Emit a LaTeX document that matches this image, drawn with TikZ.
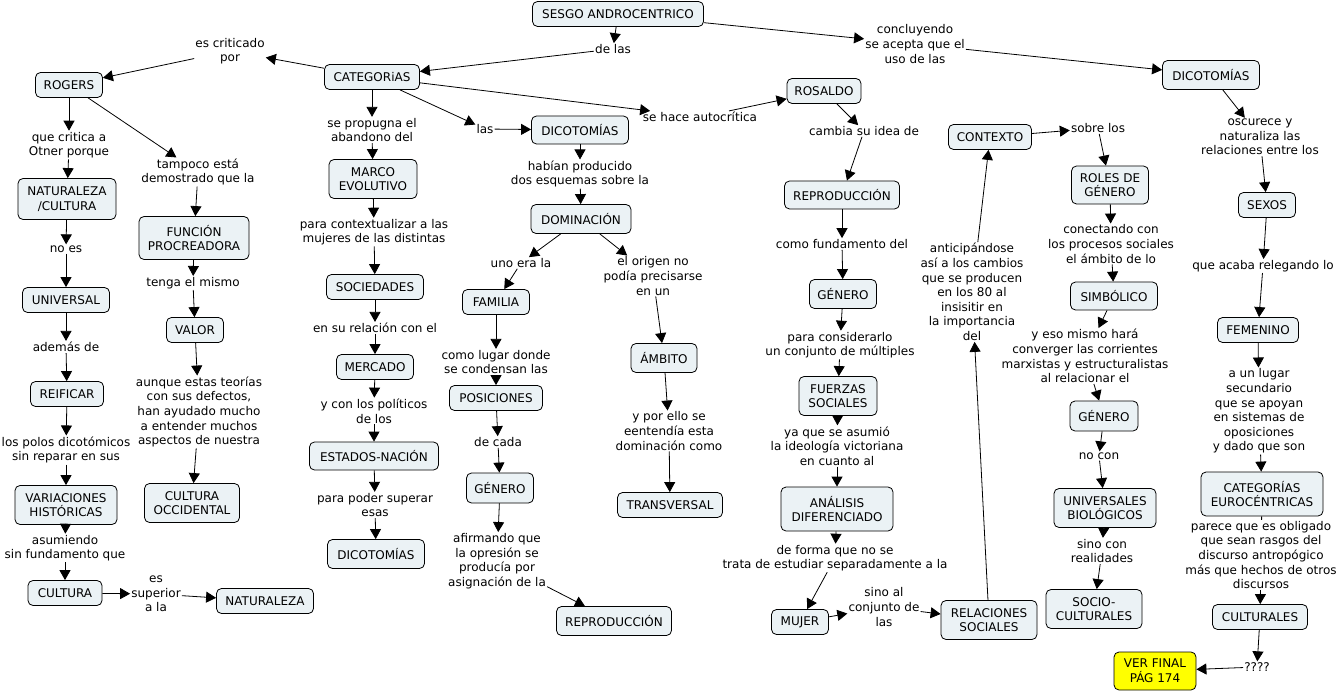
\documentclass[tikz,border=0pt]{standalone}
\usepackage{fontspec}
\setmainfont{DejaVu Sans}
\usetikzlibrary{arrows.meta}
\definecolor{boxfill}{RGB}{235,242,245}
\definecolor{yel}{RGB}{255,255,0}
\tikzset{
  cbox/.style={draw, rounded corners=5pt, fill=boxfill, align=center, inner xsep=6pt, inner ysep=2pt,
    minimum height=25pt, line width=0.8pt, font=\fontsize{12}{14.6}\selectfont},
  lab/.style={align=center, inner sep=1pt, font=\fontsize{12}{14.6}\selectfont},
  ar/.style={-{Triangle[length=10pt,width=11pt]}, line width=0.8pt},
  plainline/.style={line width=0.8pt},
}
\begin{document}
\begin{tikzpicture}[x=1pt,y=-1pt]
\fill[white] (0,0) rectangle (1340,692);
\useasboundingbox (0,0) rectangle (1340,692);
% concepts
\node[cbox, minimum width=171] (sesgo) at (618,14) {SESGO ANDROCENTRICO};
\node[cbox, minimum width=95] (cat) at (372,77) {CATEGORiAS};
\node[cbox, minimum width=67] (rogers) at (69,85) {ROGERS};
\node[cbox, minimum width=98, minimum height=41] (natcul) at (67,199) {NATURALEZA\\/CULTURA};
\node[cbox, minimum width=110, minimum height=43] (funcion) at (194,238) {FUNCIÓN\\PROCREADORA};
\node[cbox, minimum width=87] (universal) at (66,300) {UNIVERSAL};
\node[cbox, minimum width=57] (valor) at (195,330) {VALOR};
\node[cbox, minimum width=88, minimum height=39] (marco) at (373,179) {MARCO\\EVOLUTIVO};
\node[cbox, minimum width=97] (sociedades) at (375,287) {SOCIEDADES};
\node[cbox, minimum width=73] (reificar) at (67,394) {REIFICAR};
\node[cbox, minimum width=102, minimum height=39] (variaciones) at (66,505) {VARIACIONES\\HISTÓRICAS};
\node[cbox, minimum width=95, minimum height=39] (cultocc) at (192,503) {CULTURA\\OCCIDENTAL};
\node[cbox, minimum width=74] (cultura) at (65,593) {CULTURA};
\node[cbox, minimum width=97] (naturaleza) at (265,601) {NATURALEZA};
\node[cbox, minimum width=77] (mercado) at (375,367) {MERCADO};
\node[cbox, minimum width=129, minimum height=28] (estados) at (374,456) {ESTADOS-NACIÓN};
\node[cbox, minimum width=97, minimum height=29] (dicoL) at (376,554) {DICOTOMÍAS};
\node[cbox, minimum width=97, minimum height=28] (dicoM) at (580,130) {DICOTOMÍAS};
\node[cbox, minimum width=100, minimum height=29] (dominacion) at (581,219) {DOMINACIÓN};
\node[cbox, minimum width=67] (familia) at (496,302) {FAMILIA};
\node[cbox, minimum width=66, minimum height=29] (ambito) at (664,358) {ÁMBITO};
\node[cbox, minimum width=93] (posiciones) at (496,398) {POSICIONES};
\node[cbox, minimum width=67, minimum height=30] (generoM) at (500,488) {GÉNERO};
\node[cbox, minimum width=105] (transversal) at (670,505) {TRANSVERSAL};
\node[cbox, minimum width=115, minimum height=29] (reproB) at (614,621) {REPRODUCCIÓN};
\node[cbox, minimum width=74] (rosaldo) at (824,91) {ROSALDO};
\node[cbox, minimum width=115, minimum height=28] (reproR) at (842,195) {REPRODUCCIÓN};
\node[cbox, minimum width=67, minimum height=29] (generoR) at (843,294) {GÉNERO};
\node[cbox, minimum width=78, minimum height=39] (fuerzas) at (838,396) {FUERZAS\\SOCIALES};
\node[cbox, minimum width=112, minimum height=44] (analisis) at (837,509) {ANÁLISIS\\DIFERENCIADO};
\node[cbox, minimum width=57] (mujer) at (800,622) {MUJER};
\node[cbox, minimum width=96, minimum height=39] (relaciones) at (989,620) {RELACIONES\\SOCIALES};
\node[cbox, minimum width=83] (contexto) at (990,137) {CONTEXTO};
\node[cbox, minimum width=77, minimum height=38] (roles) at (1110,185) {ROLES DE\\GÉNERO};
\node[cbox, minimum width=87, minimum height=28] (simbolico) at (1114,296) {SIMBÓLICO};
\node[cbox, minimum width=97, minimum height=29] (dicoR) at (1211,75) {DICOTOMÍAS};
\node[cbox, minimum width=57] (sexos) at (1267,205) {SEXOS};
\node[cbox, minimum width=81] (femenino) at (1258,330) {FEMENINO};
\node[cbox, minimum width=68, minimum height=30] (generoR2) at (1104,416) {GÉNERO};
\node[cbox, minimum width=102, minimum height=39] (universales) at (1105,508) {UNIVERSALES\\BIOLÓGICOS};
\node[cbox, minimum width=96, minimum height=39] (socio) at (1094,609) {SOCIO-\\CULTURALES};
\node[cbox, minimum width=122, minimum height=44] (cateur) at (1262,494) {CATEGORÍAS\\EUROCÉNTRICAS};
\node[cbox, minimum width=95] (culturales) at (1260,617) {CULTURALES};
\node[cbox, fill=yel, minimum width=82, minimum height=38] (verfinal) at (1155,671) {VER FINAL\\PÁG 174};
% linking phrases
\node[lab] (l1) at (613,49) {de las};
\node[lab] (l2) at (915,44) {concluyendo\\se acepta que el\\uso de las};
\node[lab] (l3) at (230,51) {es criticado\\por};
\node[lab] (l4) at (69,145) {que critica a\\Otner porque};
\node[lab] (l5) at (198,172) {tampoco está\\demostrado que la};
\node[lab] (l6) at (372,130) {se propugna el\\abandono del};
\node[lab] (l7) at (66,249) {no es};
\node[lab] (l8) at (193,283) {tenga el mismo};
\node[lab] (l9) at (374,232) {para contextualizar a las\\mujeres de las distintas};
\node[lab] (l10) at (375,328) {en su relación con el};
\node[lab] (l11) at (66,347) {además de};
\node[lab] (l12) at (199,412) {aunque estas teorías\\con sus defectos,\\han ayudado mucho\\a entender muchos\\aspectos de nuestra};
\node[lab] (l13) at (66,450) {los polos dicotómicos\\sin reparar en sus};
\node[lab] (l14) at (65,548) {asumiendo\\sin fundamento que};
\node[lab] (l15) at (156,594) {es\\superior\\a la};
\node[lab] (l16) at (374,411) {y con los políticos\\de los};
\node[lab] (l17) at (375,505) {para poder superar\\esas};
\node[lab] (l18) at (485,129) {las};
\node[lab] (l19) at (700,117) {se hace autocrítica};
\node[lab] (l20) at (580,174) {habían producido\\dos esquemas sobre la};
\node[lab] (l21) at (521,263) {uno era la};
\node[lab] (l22) at (653,276) {el origen no\\podía precisarse\\en un};
\node[lab] (l23) at (496,362) {como lugar donde\\se condensan las};
\node[lab] (l24) at (498,442) {de cada};
\node[lab] (l25) at (497,561) {afirmando que\\la opresión se\\producía por\\asignación de la};
\node[lab] (l26) at (669,431) {y por ello se\\eentendía esta\\dominación como};
\node[lab] (l27) at (864,131) {cambia su idea de};
\node[lab] (l28) at (842,244) {como fundamento del};
\node[lab] (l29) at (840,345) {para considerarlo\\un conjunto de múltiples};
\node[lab] (l30) at (837,446) {ya que se asumió\\la ideología victoriana\\en cuanto al};
\node[lab] (l31) at (835,558) {de forma que no se\\trata de estudiar separadamente a la};
\node[lab] (l32) at (884,607) {sino al\\conjunto de\\las};
\node[lab] (l33) at (972,292) {anticipándose\\así a los cambios\\que se producen\\en los 80 al\\insisitir en\\la importancia\\del};
\node[lab] (l34) at (1098,128) {sobre los};
\node[lab] (l35) at (1111,244) {conectando con\\los procesos sociales\\el ámbito de lo};
\node[lab] (l36) at (1085,356) {y eso mismo hará\\converger las corrientes\\marxistas y estructuralistas\\al relacionar el};
\node[lab] (l37) at (1099,456) {no con};
\node[lab] (l38) at (1102,551) {sino con\\realidades};
\node[lab] (l39) at (1260,137) {oscurece y\\naturaliza las\\relaciones entre los};
\node[lab] (l40) at (1263,266) {que acaba relegando lo};
\node[lab] (l41) at (1259,411) {a un lugar\\secundario\\que se apoyan\\en sistemas de\\oposiciones\\y dado que son};
\node[lab] (l42) at (1261,555) {parece que es obligado\\que sean rasgos del\\discurso antropógico\\más que hechos de otros\\discursos};
\node[lab] (l43) at (1257,667) {????};
% connectors
\draw[ar] (sesgo) -- (l1); \draw[ar] (l1) -- (cat);
\draw[ar] (sesgo) -- (l2); \draw[ar] (l2) -- (dicoR);
\draw[ar] (cat) -- (l3); \draw[ar] (l3) -- (rogers);
\draw[ar] (cat) -- (l6); \draw[ar] (l6) -- (marco);
\draw[ar] (cat) -- (l18); \draw[ar] (l18) -- (dicoM);
\draw[ar] (cat) -- (l19); \draw[ar] (l19) -- (rosaldo);
\draw[ar] (rogers) -- (l4); \draw[ar] (l4) -- (natcul);
\draw[ar] (rogers) -- (l5); \draw[ar] (l5) -- (funcion);
\draw[ar] (natcul) -- (l7); \draw[ar] (l7) -- (universal);
\draw[ar] (universal) -- (l11); \draw[ar] (l11) -- (reificar);
\draw[ar] (reificar) -- (l13); \draw[ar] (l13) -- (variaciones);
\draw[ar] (variaciones) -- (l14); \draw[ar] (l14) -- (cultura);
\draw[ar] (cultura) -- (l15); \draw[ar] (l15) -- (naturaleza);
\draw[ar] (funcion) -- (l8); \draw[ar] (l8) -- (valor);
\draw[ar] (valor) -- (l12); \draw[ar] (l12) -- (cultocc);
\draw[ar] (marco) -- (l9); \draw[ar] (l9) -- (sociedades);
\draw[ar] (sociedades) -- (l10); \draw[ar] (l10) -- (mercado);
\draw[ar] (mercado) -- (l16); \draw[ar] (l16) -- (estados);
\draw[ar] (estados) -- (l17); \draw[ar] (l17) -- (dicoL);
\draw[ar] (dicoM) -- (l20); \draw[ar] (l20) -- (dominacion);
\draw[ar] (dominacion) -- (l21); \draw[ar] (l21) -- (familia);
\draw[ar] (familia) -- (l23); \draw[ar] (l23) -- (posiciones);
\draw[ar] (posiciones) -- (l24); \draw[ar] (l24) -- (generoM);
\draw[ar] (generoM) -- (l25); \draw[ar] (l25) -- (reproB);
\draw[ar] (dominacion) -- (l22); \draw[ar] (l22) -- (ambito);
\draw[ar] (ambito) -- (l26); \draw[ar] (l26) -- (transversal);
\draw[ar] (rosaldo) -- (l27); \draw[ar] (l27) -- (reproR);
\draw[ar] (reproR) -- (l28); \draw[ar] (l28) -- (generoR);
\draw[ar] (generoR) -- (l29); \draw[ar] (l29) -- (fuerzas);
\draw[ar] (fuerzas) -- (l30); \draw[ar] (l30) -- (analisis);
\draw[ar] (analisis) -- (l31); \draw[ar] (l31) -- (mujer);
\draw[ar] (mujer) -- (l32); \draw[ar] (l32) -- (relaciones);
\draw[ar] (relaciones) -- (l33); \draw[ar] (l33) -- (contexto);
\draw[ar] (contexto) -- (l34); \draw[ar] (l34) -- (roles);
\draw[ar] (roles) -- (l35); \draw[ar] (l35) -- (simbolico);
\draw[ar] (simbolico) -- (l36); \draw[ar] (l36) -- (generoR2);
\draw[ar] (generoR2) -- (l37); \draw[ar] (l37) -- (universales);
\draw[ar] (universales) -- (l38); \draw[ar] (l38) -- (socio);
\draw[ar] (dicoR) -- (l39); \draw[ar] (l39) -- (sexos);
\draw[ar] (sexos) -- (l40); \draw[ar] (l40) -- (femenino);
\draw[ar] (femenino) -- (l41); \draw[ar] (l41) -- (cateur);
\draw[plainline] (cateur) -- (l42); \draw[ar] (l42) -- (culturales);
\draw[ar] (culturales) -- (l43); \draw[ar] (l43) -- (verfinal);
\end{tikzpicture}
\end{document}
